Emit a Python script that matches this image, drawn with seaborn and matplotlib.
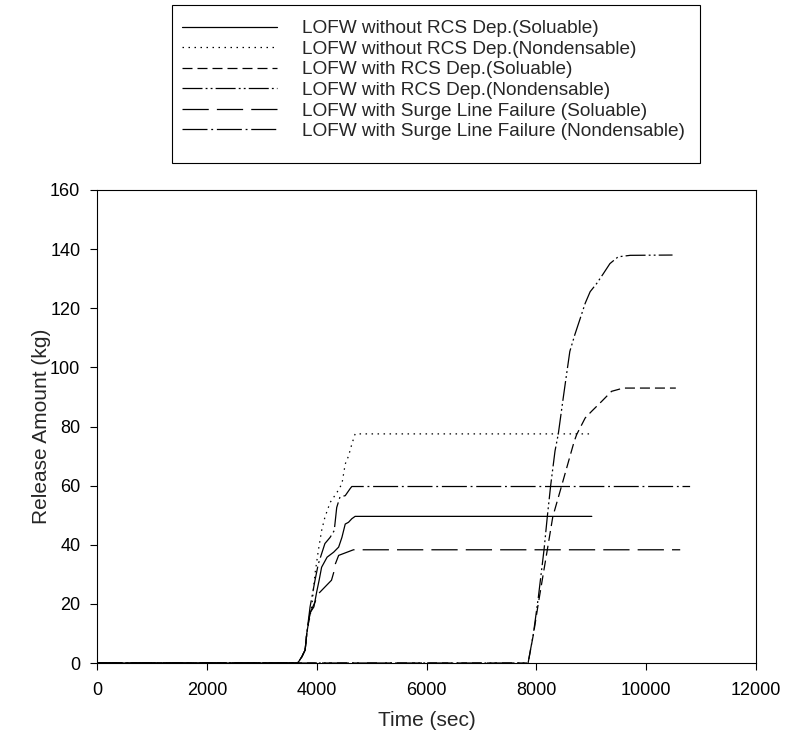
import matplotlib
matplotlib.use("Agg")
import matplotlib.pyplot as plt
import matplotlib.patches as mpatches
import seaborn as sns
import pandas as pd

labels = [
    "LOFW without RCS Dep.(Soluable)",
    "LOFW without RCS Dep.(Nondensable)",
    "LOFW with RCS Dep.(Soluable)",
    "LOFW with RCS Dep.(Nondensable)",
    "LOFW with Surge Line Failure (Soluable)",
    "LOFW with Surge Line Failure (Nondensable)",
]

t_a = [0, 3650, 3670, 3730, 3790, 3820, 3880, 3950, 4000, 4045, 4090, 4190, 4310, 4400, 4460, 4520, 4580, 4640, 4700, 9010]
v_a = [0, 0, 0.4, 2.1, 4.4, 10, 17, 19, 24, 28, 32.4, 35.8, 37.5, 39.2, 42.5, 47, 47.6, 48.8, 49.6, 49.6]

t_b = [0, 3650, 3670, 3730, 3790, 3820, 3910, 3970, 4030, 4090, 4150, 4245, 4370, 4460, 4520, 4580, 4640, 4700, 9040]
v_b = [0, 0, 0.4, 2.1, 4.4, 10, 19, 30.2, 38, 44.8, 49.3, 54.3, 57.7, 60.6, 67.3, 70, 74, 77.5, 77.5]

t_c = [0, 7850, 7950, 8035, 8200, 8300, 8460, 8690, 8735, 8890, 9010, 9190, 9370, 9585, 10540]
v_c = [0, 0, 10, 20, 38.3, 49.5, 59.9, 75, 77.3, 82.9, 85.2, 88.5, 91.9, 93, 93]

t_d = [0, 7850, 7945, 8035, 8140, 8200, 8260, 8340, 8400, 8490, 8550, 8610, 8700, 8800, 8890, 8980, 9100, 9220, 9340, 9490, 9710, 10480]
v_d = [0, 0, 9.7, 22, 38.3, 49.5, 59.9, 71.7, 77.5, 89.7, 97.6, 105.4, 111, 116.6, 121.7, 125.6, 128.4, 131.7, 135.1, 137.4, 137.9, 138]

t_e = [0, 3650, 3670, 3730, 3790, 3820, 3880, 3970, 4030, 4270, 4310, 4340, 4400, 4670, 10620]
v_e = [0, 0, 0.4, 2.1, 4.4, 10, 17, 20.6, 23.4, 28, 30.6, 33.5, 36.4, 38.3, 38.3]

t_f = [0, 3650, 3670, 3730, 3790, 3820, 3880, 3970, 4030, 4150, 4245, 4320, 4365, 4425, 4520, 4610, 4640, 10800]
v_f = [0, 0, 0.4, 2.1, 4.4, 10, 19, 28, 33.5, 40.4, 42.5, 44.8, 52.6, 56.2, 56.6, 59, 59.7, 59.7]

series_t = [t_a, t_b, t_c, t_d, t_e, t_f]
series_v = [v_a, v_b, v_c, v_d, v_e, v_f]

frames = []
for lab, tt, vv in zip(labels, series_t, series_v):
    frames.append(pd.DataFrame({"Time": tt, "Release": vv, "Series": lab}))
df = pd.concat(frames, ignore_index=True)

dash_map = {
    labels[0]: "",
    labels[1]: (1.2, 3.6),
    labels[2]: (8, 4),
    labels[3]: (16, 2.5, 1.5, 2.5, 1.5, 2.5),
    labels[4]: (21, 6.5),
    labels[5]: (20, 3, 1.5, 3),
}

sns.set_style("ticks")
plt.rcParams["font.family"] = ["Liberation Sans", "DejaVu Sans"]

W, H = 789, 747
fig = plt.figure(figsize=(W / 100, H / 100), dpi=100)
ax = fig.add_axes([97 / W, 1 - 663 / H, (756 - 97) / W, (663 - 190) / H])

sns.lineplot(data=df, x="Time", y="Release", style="Series", style_order=labels,
             dashes=dash_map, color="black", linewidth=0.9, sort=False,
             estimator=None, ax=ax)

handles, labs = ax.get_legend_handles_labels()
if ax.get_legend() is not None:
    ax.get_legend().remove()

ax.set_xlim(0, 12000)
ax.set_ylim(0, 160)
ax.set_xticks(range(0, 12001, 2000))
ax.set_yticks(range(0, 161, 20))
ax.tick_params(axis="both", direction="out", length=5, width=0.8, labelsize=13, colors="black")
ax.tick_params(axis="x", pad=9)
ax.tick_params(axis="y", pad=7)
for s in ax.spines.values():
    s.set_visible(True)
    s.set_color("black")
    s.set_linewidth(0.8)
ax.set_xlabel("Time (sec)", fontsize=15, labelpad=8)
ax.set_ylabel("Release Amount (kg)", fontsize=15, labelpad=-1)

# legend box
rect = mpatches.Rectangle((172 / W, 1 - 163 / H), (700 - 172) / W, (163 - 5) / H,
                          transform=fig.transFigure, fill=False, edgecolor="black",
                          linewidth=0.8)
fig.add_artist(rect)
leg = fig.legend(handles, labs, loc="upper left", bbox_to_anchor=(182 / W, 1 - 20 / H),
                 frameon=False, fontsize=13.7, handlelength=5.0,
                 handletextpad=1.3, labelspacing=0.17, borderpad=0,
                 borderaxespad=0)
for line in leg.get_lines():
    line.set_color("black")
    line.set_linewidth(0.9)

fig.savefig("out.png", dpi=100)
